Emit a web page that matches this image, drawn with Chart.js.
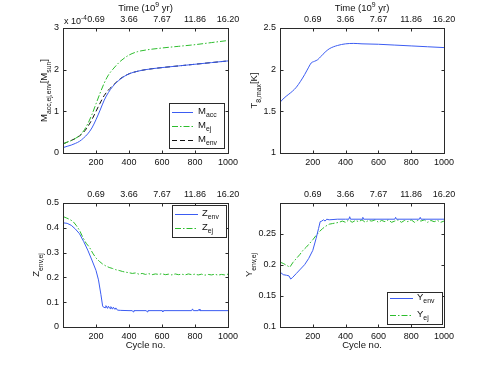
<!DOCTYPE html>
<html>
<head>
<meta charset="utf-8">
<script src="https://cdn.jsdelivr.net/npm/chart.js@4"></script>
<style>
  html, body { margin: 0; padding: 0; background: #fff; }
  #fig { position: relative; width: 491px; height: 368px; overflow: hidden; }
  canvas { position: absolute; }
</style>
</head>
<body>
<div id="fig">
  <canvas id="c-mass" width="245" height="184" style="left:0;top:0"></canvas>
  <canvas id="c-temp" width="246" height="184" style="left:245px;top:0"></canvas>
  <canvas id="c-z"    width="245" height="184" style="left:0;top:184px"></canvas>
  <canvas id="c-y"    width="246" height="184" style="left:245px;top:184px"></canvas>
</div>
<script>
// ── data ──────────────────────────────────────────────────────────────────────
const X_TICKS     = [200, 400, 600, 800, 1000]
const TIME_LABELS = ['0.69', '3.66', '7.67', '11.86', '16.20']

// mass panel (units of 1e-4 Msun)
const CYC_M = [1, 25, 50, 75, 100, 125, 150, 175, 200, 225, 250, 275, 300, 350, 400, 450, 500, 600, 700, 800, 900, 1000]
const M_ACC = [0.13, 0.16, 0.19, 0.23, 0.28, 0.36, 0.46, 0.6, 0.8, 1.03, 1.27, 1.45, 1.59, 1.78, 1.9, 1.96, 2.0, 2.05, 2.09, 2.13, 2.17, 2.21]
const M_EJ  = [0.22, 0.26, 0.3, 0.35, 0.42, 0.53, 0.7, 0.92, 1.18, 1.44, 1.68, 1.87, 2.0, 2.21, 2.35, 2.43, 2.47, 2.52, 2.56, 2.6, 2.65, 2.7]
const M_ENV = [0.22, 0.26, 0.3, 0.35, 0.41, 0.5, 0.63, 0.8, 1.0, 1.2, 1.38, 1.51, 1.61, 1.79, 1.9, 1.96, 2.0, 2.05, 2.09, 2.13, 2.17, 2.21]
const M_TICKS = [0, 1, 2, 3]

// T8,max panel
const CYC_T = [1, 25, 50, 75, 100, 125, 150, 175, 190, 210, 230, 250, 275, 300, 350, 400, 450, 500, 600, 700, 800, 900, 1000]
const T8MAX = [1.61, 1.66, 1.7, 1.74, 1.79, 1.86, 1.94, 2.03, 2.08, 2.1, 2.12, 2.16, 2.21, 2.25, 2.29, 2.31, 2.315, 2.31, 2.305, 2.295, 2.285, 2.275, 2.265]
const T_TICKS = [1, 1.5, 2, 2.5]

// Z panel
const CYC_ZENV = [1, 25, 50, 75, 100, 125, 150, 175, 200, 215, 230, 240, 245, 255, 260, 270, 275, 285, 290, 300, 305, 315, 320, 330, 350, 400, 420, 425, 430, 505, 510, 515, 600, 605, 610, 780, 785, 790, 820, 825, 830, 1000]
const Z_ENV    = [0.42, 0.418, 0.41, 0.395, 0.376, 0.345, 0.31, 0.27, 0.228, 0.19, 0.13, 0.085, 0.08, 0.078, 0.086, 0.075, 0.084, 0.074, 0.082, 0.072, 0.08, 0.071, 0.077, 0.068, 0.067, 0.066, 0.066, 0.061, 0.066, 0.066, 0.061, 0.066, 0.066, 0.061, 0.066, 0.066, 0.073, 0.066, 0.066, 0.072, 0.066, 0.066]
const CYC_20 = [1, 20, 40, 60, 80, 100, 120, 140, 160, 180, 200, 220, 240, 260, 280, 300, 320, 340, 360, 380, 400, 420, 440, 460, 480, 500,
                520, 540, 560, 580, 600, 620, 640, 660, 680, 700, 720, 740, 760, 780, 800, 820, 840, 860, 880, 900, 920, 940, 960, 980, 1000]
const Z_EJ = [0.445, 0.44, 0.434, 0.426, 0.41, 0.39, 0.362, 0.338, 0.322, 0.298, 0.278, 0.265, 0.254, 0.246, 0.24, 0.236, 0.231, 0.228, 0.224, 0.221, 0.219, 0.216, 0.218, 0.213, 0.216, 0.212,
              0.215, 0.211, 0.214, 0.212, 0.215, 0.211, 0.213, 0.21, 0.214, 0.211, 0.213, 0.21, 0.214, 0.211, 0.213, 0.21, 0.213, 0.209, 0.212, 0.21, 0.213, 0.209, 0.212, 0.21, 0.213]
const Z_TICKS = [0, 0.1, 0.2, 0.3, 0.4, 0.5]

// Y panel
const CYC_YENV = [1, 20, 40, 55, 65, 75, 100, 125, 150, 175, 200, 220, 235, 245, 255, 265, 275, 285, 300, 350, 400, 420, 425, 430, 500, 505, 510, 700, 705, 710, 850, 855, 860, 1000]
const Y_ENV    = [0.188, 0.184, 0.183, 0.182, 0.177, 0.179, 0.186, 0.193, 0.2, 0.21, 0.223, 0.242, 0.258, 0.269, 0.27, 0.272, 0.27, 0.273, 0.272, 0.273, 0.273, 0.273, 0.277, 0.273, 0.273, 0.276, 0.273, 0.273, 0.276, 0.273, 0.273, 0.276, 0.273, 0.273]
const Y_EJ = [0.204, 0.202, 0.199, 0.196, 0.204, 0.21, 0.216, 0.223, 0.228, 0.234, 0.24, 0.247, 0.253, 0.258, 0.262, 0.265, 0.266, 0.267, 0.268, 0.27, 0.268, 0.272, 0.268, 0.271, 0.269, 0.272,
              0.268, 0.271, 0.27, 0.272, 0.268, 0.271, 0.269, 0.272, 0.268, 0.27, 0.272, 0.268, 0.271, 0.269, 0.272, 0.268, 0.271, 0.27, 0.272, 0.268, 0.271, 0.269, 0.271, 0.268, 0.27]
const Y_TICKS = [0.1, 0.15, 0.2, 0.25]

// ── style ─────────────────────────────────────────────────────────────────────
const FONT  = '"Liberation Sans", Arial, Helvetica, sans-serif'
const TICK  = 9
const LABEL = 9.5
const BLUE  = '#3b5cf2'
const GREEN = '#2dbd2d'
const BLACK = '#111'
const DASHDOT = [6, 2, 1.5, 2]
const DASHED  = [5, 3]

const pts = (xs, ys) => xs.map((x, i) => ({ x, y: ys[i] }))

// text with sub/superscripts: parts = [[text, ''|'b'|'p'], ...]
function richWidth(ctx, parts, size) {
  let w = 0
  for (const [t, k] of parts) { ctx.font = (k ? size * 0.72 : size) + 'px ' + FONT; w += ctx.measureText(t).width }
  return w
}
function drawRich(ctx, parts, x, y, size, align = 'center') {
  const w = richWidth(ctx, parts, size)
  let cx = align === 'center' ? x - w / 2 : align === 'right' ? x - w : x
  ctx.textAlign = 'left'
  ctx.textBaseline = 'alphabetic'
  for (const [t, k] of parts) {
    const s  = k ? size * 0.72 : size
    const dy = k === 'b' ? size * 0.38 : k === 'p' ? -size * 0.45 : 0
    ctx.font = s + 'px ' + FONT
    ctx.fillText(t, cx, y + dy)
    cx += ctx.measureText(t).width
  }
}

// ── matlab-ish decorations: box, inward ticks, labels, legend ────────────────
Chart.register({
  id: 'decor',
  afterDraw(chart, args, o) {
    const { ctx, chartArea: a } = chart
    const xs = chart.scales.x, ys = chart.scales.y
    ctx.save()
    ctx.strokeStyle = '#2a2a2a'
    ctx.lineWidth = 1
    ctx.setLineDash([])
    const L = Math.round(a.left) + 0.5, R = Math.round(a.right) + 0.5
    const T = Math.round(a.top) + 0.5,  B = Math.round(a.bottom) + 0.5
    ctx.strokeRect(L, T, R - L, B - T)
    ctx.beginPath()
    xs.ticks.forEach(t => {
      const px = Math.round(xs.getPixelForValue(t.value)) + 0.5
      ctx.moveTo(px, B); ctx.lineTo(px, B - 3)
      ctx.moveTo(px, T); ctx.lineTo(px, T + 3)
    })
    ys.ticks.forEach(t => {
      const py = Math.round(ys.getPixelForValue(t.value)) + 0.5
      ctx.moveTo(L, py); ctx.lineTo(L + 3, py)
      ctx.moveTo(R, py); ctx.lineTo(R - 3, py)
    })
    ctx.stroke()

    ctx.fillStyle = '#111'
    const cxm = (a.left + a.right) / 2, cym = (a.top + a.bottom) / 2
    if (o.ylabel) {
      ctx.save()
      ctx.translate(o.ylabelX, cym)
      ctx.rotate(-Math.PI / 2)
      drawRich(ctx, o.ylabel, 0, LABEL * 0.36, LABEL)
      ctx.restore()
    }
    if (o.topTitle) drawRich(ctx, o.topTitle, cxm, o.topTitleY, LABEL)
    if (o.botTitle) drawRich(ctx, o.botTitle, cxm, o.botTitleY, LABEL)
    if (o.note) drawRich(ctx, o.note, a.left + 1, a.top - 4, TICK, 'left')

    if (o.legend) {
      const g = o.legend
      const [bx, by, bw, bh] = g.box
      ctx.fillStyle = '#fff'
      ctx.fillRect(bx, by, bw, bh)
      ctx.strokeStyle = '#2a2a2a'
      ctx.strokeRect(bx + 0.5, by + 0.5, bw, bh)
      g.items.forEach((it, i) => {
        const ds = chart.data.datasets[i]
        const ly = g.ys[i] + 0.5
        ctx.strokeStyle = ds.borderColor
        ctx.setLineDash(ds.borderDash || [])
        ctx.beginPath(); ctx.moveTo(g.lineX[0], ly); ctx.lineTo(g.lineX[1], ly); ctx.stroke()
        ctx.setLineDash([])
        ctx.fillStyle = '#111'
        drawRich(ctx, it, g.textX, ly + 1, LABEL, 'left')
      })
    }
    ctx.restore()
  }
})

function xAxis(h) {
  return {
    type: 'linear', position: 'bottom', min: 0, max: 1000,
    grid: { display: false, drawTicks: false }, border: { display: false },
    afterBuildTicks: s => { s.ticks = X_TICKS.map(v => ({ value: v })) },
    afterFit: s => { s.height = h },
    ticks: { font: { family: FONT, size: TICK }, color: '#111', padding: 4, maxRotation: 0, autoSkip: false, callback: v => String(v) },
  }
}
function topAxis(h) {
  return {
    type: 'linear', position: 'top', min: 0, max: 1000,
    grid: { display: false, drawTicks: false }, border: { display: false },
    afterBuildTicks: s => { s.ticks = X_TICKS.map(v => ({ value: v })) },
    afterFit: s => { s.height = h },
    ticks: { font: { family: FONT, size: TICK }, color: '#111', padding: 3, maxRotation: 0, autoSkip: false,
             callback: v => TIME_LABELS[X_TICKS.indexOf(v)] },
  }
}
function yAxis(min, max, ticks, w) {
  return {
    type: 'linear', position: 'left', min, max,
    grid: { display: false, drawTicks: false }, border: { display: false },
    afterBuildTicks: s => { s.ticks = ticks.map(v => ({ value: v })) },
    afterFit: s => { s.width = w },
    ticks: { font: { family: FONT, size: TICK }, color: '#111', padding: 4, autoSkip: false, callback: v => String(v) },
  }
}
function line(data, color, dash, smooth) {
  return {
    data, borderColor: color, borderWidth: 1, borderDash: dash || [], pointRadius: 0,
    fill: false, ...(smooth ? { cubicInterpolationMode: 'monotone' } : { tension: 0 }),
  }
}
function panel(id, datasets, scales, padRight, decor) {
  new Chart(document.getElementById(id), {
    type: 'line',
    data: { datasets },
    options: {
      responsive: false, animation: false, parsing: true,
      layout: { padding: { left: 0, top: 0, bottom: 0, right: padRight } },
      scales,
      plugins: { legend: { display: false }, tooltip: { enabled: false }, decor },
    },
  })
}

const TIME_TITLE = [['Time (10', ''], ['9', 'p'], [' yr)', '']]
const CYCLE_TITLE = [['Cycle no.', '']]

panel('c-mass', [
  line(pts(CYC_M, M_ACC), BLUE, null, true),
  line(pts(CYC_M, M_EJ), GREEN, DASHDOT, true),
  line(pts(CYC_M, M_ENV), BLACK, DASHED, true),
], { x: xAxis(31), x2: topAxis(28), y: yAxis(0, 3, M_TICKS, 63) }, 17, {
  ylabel: [['M', ''], ['acc,ej,env', 'b'], ['[M', ''], ['sun', 'b'], [']', '']], ylabelX: 43.5,
  topTitle: TIME_TITLE, topTitleY: 11,
  note: [['x 10', ''], ['-4', 'p']],
  legend: { box: [169, 103, 55, 45], ys: [112, 126, 140], lineX: [172, 193], textX: 198,
            items: [[['M', ''], ['acc', 'b']], [['M', ''], ['ej', 'b']], [['M', ''], ['env', 'b']]] },
})

panel('c-temp', [
  line(pts(CYC_T, T8MAX), BLUE, null, true),
], { x: xAxis(31), x2: topAxis(28), y: yAxis(1, 2.5, T_TICKS, 35) }, 47, {
  ylabel: [['T', ''], ['8,max', 'b'], ['[K]', '']], ylabelX: 8.5,
  topTitle: TIME_TITLE, topTitleY: 11,
})

panel('c-z', [
  line(pts(CYC_ZENV, Z_ENV), BLUE, null, false),
  line(pts(CYC_20, Z_EJ), GREEN, DASHDOT, false),
], { x: xAxis(41), x2: topAxis(19), y: yAxis(0, 0.5, Z_TICKS, 63) }, 17, {
  ylabel: [['Z', ''], ['env,ej', 'b']], ylabelX: 36,
  botTitle: CYCLE_TITLE, botTitleY: 164,
  legend: { box: [172, 21, 54, 32], ys: [30, 44], lineX: [175, 198], textX: 202,
            items: [[['Z', ''], ['env', 'b']], [['Z', ''], ['ej', 'b']]] },
})

panel('c-y', [
  line(pts(CYC_YENV, Y_ENV), BLUE, null, false),
  line(pts(CYC_20, Y_EJ), GREEN, DASHDOT, false),
], { x: xAxis(41), x2: topAxis(19), y: yAxis(0.1, 0.299, Y_TICKS, 35) }, 47, {
  ylabel: [['Y', ''], ['env,ej', 'b']], ylabelX: 3.5,
  botTitle: CYCLE_TITLE, botTitleY: 164,
  legend: { box: [142, 108, 55, 32], ys: [114, 131], lineX: [145, 168], textX: 172,
            items: [[['Y', ''], ['env', 'b']], [['Y', ''], ['ej', 'b']]] },
})
</script>
</body>
</html>
